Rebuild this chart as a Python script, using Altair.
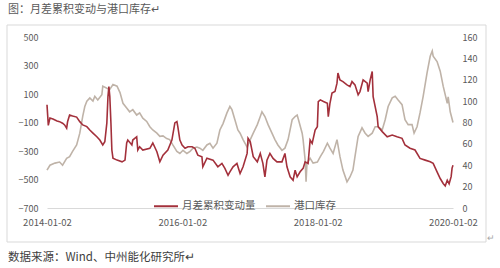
import altair as alt
import pandas as pd

# ---------------- data ----------------
series_names = ["月差累积变动量", "港口库存"]
series_colors = ["#A3303B", "#BFB3A8"]

red_dates = [
    "2014-01-02", "2014-01-09", "2014-01-18", "2014-02-03", "2014-02-25", "2014-03-11", "2014-03-27",
    "2014-04-07", "2014-04-18", "2014-04-23", "2014-05-04", "2014-05-20", "2014-06-11", "2014-06-28",
    "2014-07-14", "2014-08-05", "2014-08-21", "2014-09-07", "2014-09-28", "2014-10-14", "2014-10-30",
    "2014-11-10", "2014-11-21", "2014-11-27", "2014-12-02", "2014-12-07", "2014-12-13", "2014-12-18",
    "2014-12-24", "2015-01-15", "2015-02-11", "2015-02-27", "2015-03-08", "2015-03-14", "2015-04-05",
    "2015-04-10", "2015-05-01", "2015-05-07", "2015-05-17", "2015-06-03", "2015-07-11", "2015-07-27",
    "2015-08-18", "2015-09-03", "2015-09-20", "2015-10-16", "2015-11-07", "2015-11-23", "2015-12-04",
    "2015-12-09", "2015-12-20", "2016-01-01", "2016-01-17", "2016-02-02", "2016-02-24", "2016-03-10",
    "2016-03-26", "2016-04-17", "2016-04-22", "2016-05-14", "2016-06-16", "2016-07-12", "2016-08-03",
    "2016-08-19", "2016-09-05", "2016-09-15", "2016-10-02", "2016-10-23", "2016-11-09", "2016-11-25",
    "2016-12-17", "2016-12-22", "2017-01-03", "2017-01-19", "2017-02-10", "2017-02-26", "2017-03-12",
    "2017-03-23", "2017-04-03", "2017-04-19", "2017-05-06", "2017-05-27", "2017-06-23", "2017-07-09",
    "2017-07-20", "2017-08-06", "2017-08-22", "2017-09-02", "2017-09-13", "2017-09-29", "2017-10-15",
    "2017-10-26", "2017-11-11", "2017-11-22", "2017-12-03", "2017-12-19", "2017-12-31", "2018-01-05",
    "2018-01-16", "2018-02-02", "2018-02-23", "2018-02-28", "2018-03-09", "2018-03-20", "2018-04-05",
    "2018-04-16", "2018-04-21", "2018-05-02", "2018-05-18", "2018-06-09", "2018-06-25", "2018-07-06",
    "2018-07-22", "2018-08-08", "2018-08-18", "2018-09-04", "2018-09-26", "2018-10-01", "2018-10-12",
    "2018-10-23", "2018-10-28", "2018-11-19", "2018-11-24", "2018-12-16", "2019-01-12", "2019-02-08",
    "2019-03-06", "2019-04-02", "2019-04-18", "2019-05-15", "2019-06-11", "2019-07-08", "2019-08-05",
    "2019-09-01", "2019-09-17", "2019-10-08", "2019-10-25", "2019-11-10", "2019-11-21", "2019-12-02",
    "2019-12-12", "2019-12-23", "2019-12-28", "2020-01-02",
]
red_values = [
    25, -120, -68, -75, -90, -94, -105,
    -117, -140, -95, -47, -54, -62, -94,
    -117, -129, -153, -174, -200, -223, -258,
    -235, -103, 82, 152, 82, -103, -293,
    -350, -364, -376, -364, -244, -223, -258,
    -223, -200, -293, -270, -293, -281, -244,
    -305, -376, -329, -293, -223, -103, -94,
    -129, -223, -258, -281, -270, -270, -281,
    -329, -340, -411, -350, -364, -411, -387,
    -422, -470, -446, -411, -387, -458, -411,
    -317, -211, -235, -340, -376, -317, -387,
    -481, -364, -317, -352, -376, -376, -317,
    -411, -481, -505, -435, -481, -446, -422,
    -376, -387, -223, -246, -153, -129, 47,
    59, 47, 35, -59, 35, 106, 117,
    176, 247, 199, 187, 164, 152, 187,
    164, 94, 117, 199, 176, 117, 199,
    258, 82, -59, -129, -164, -200, -188,
    -200, -211, -258, -281, -293, -352, -364,
    -376, -387, -446, -493, -528, -545, -505,
    -530, -480, -420, -400,
]

gray_dates = [
    "2014-01-02", "2014-01-18", "2014-02-14", "2014-03-11", "2014-03-27", "2014-04-18", "2014-05-04",
    "2014-05-20", "2014-06-11", "2014-06-28", "2014-07-14", "2014-07-25", "2014-08-05", "2014-08-21",
    "2014-09-07", "2014-09-17", "2014-10-03", "2014-10-25", "2014-10-30", "2014-11-21", "2014-12-07",
    "2014-12-24", "2015-01-15", "2015-01-31", "2015-02-16", "2015-03-08", "2015-03-24", "2015-04-10",
    "2015-05-01", "2015-05-17", "2015-06-03", "2015-06-24", "2015-07-11", "2015-07-27", "2015-08-18",
    "2015-09-03", "2015-09-20", "2015-10-10", "2015-10-26", "2015-11-12", "2015-12-04", "2015-12-20",
    "2016-01-06", "2016-01-27", "2016-02-13", "2016-02-29", "2016-03-21", "2016-04-06", "2016-04-22",
    "2016-05-14", "2016-05-30", "2016-06-16", "2016-07-07", "2016-07-23", "2016-08-09", "2016-08-30",
    "2016-09-15", "2016-09-26", "2016-10-12", "2016-10-28", "2016-11-09", "2016-11-25", "2016-12-17",
    "2017-01-03", "2017-01-19", "2017-02-10", "2017-02-26", "2017-03-07", "2017-03-23", "2017-04-09",
    "2017-04-30", "2017-05-16", "2017-06-01", "2017-06-23", "2017-07-09", "2017-07-26", "2017-08-17",
    "2017-09-02", "2017-09-13", "2017-09-18", "2017-10-10", "2017-10-15", "2017-10-26", "2017-10-31",
    "2017-11-05", "2017-11-22", "2017-12-08", "2017-12-31", "2018-01-16", "2018-02-02", "2018-02-23",
    "2018-03-09", "2018-03-26", "2018-04-16", "2018-05-02", "2018-05-18", "2018-06-09", "2018-06-25",
    "2018-07-11", "2018-07-22", "2018-08-08", "2018-08-29", "2018-09-15", "2018-10-01", "2018-10-23",
    "2018-11-08", "2018-11-24", "2018-12-16", "2019-01-01", "2019-01-17", "2019-02-08", "2019-02-24",
    "2019-03-12", "2019-04-02", "2019-04-18", "2019-05-05", "2019-05-26", "2019-06-06", "2019-06-22",
    "2019-07-08", "2019-07-25", "2019-08-15", "2019-09-01", "2019-09-12", "2019-09-17", "2019-10-08",
    "2019-10-25", "2019-11-10", "2019-12-02", "2019-12-07", "2019-12-18", "2020-01-02",
]
gray_values = [
    35.5, 40, 42, 43, 40, 46.5, 48,
    53, 59, 70, 86, 95, 100, 103,
    100, 104.5, 101, 106, 114, 112, 111,
    115.5, 114, 108, 98, 93.6, 90, 92,
    87, 89, 84, 81, 76, 73, 70,
    67, 67.5, 65, 64, 59, 53, 51,
    54, 51, 53, 56, 57, 56, 54,
    59, 60.6, 56, 60.6, 73, 79, 89,
    95, 92, 82.6, 73, 70, 64, 57,
    64, 70, 78, 85.6, 90, 85.6, 78,
    70, 64, 59, 54, 56, 64, 82.6,
    85.6, 87, 84, 70, 64, 45, 24.5,
    42, 46.5, 42, 43, 48, 53, 60.6,
    56, 51, 64, 48, 35.5, 24.5, 29,
    35.5, 48, 67, 75, 70, 67, 70,
    76, 76, 73, 82.6, 95, 103, 104.5,
    101, 96.7, 82.6, 78, 78, 70, 76,
    89, 104.5, 126.5, 142, 147, 142, 137,
    128, 114, 98, 104, 90, 80,
]

x_ticks = ["2014-01-02", "2016-01-02", "2018-01-02", "2020-01-02"]
left_ticks = [-700, -500, -300, -100, 100, 300, 500]
right_ticks = [0, 20, 40, 60, 80, 100, 120, 140, 160]

title_text = "图：月差累积变动与港口库存↵"
source_text = "数据来源：Wind、中州能化研究所↵"
corner_mark = "↵"

# ---------------- chart ----------------
FONT = "Noto Sans CJK SC"
LABEL_COLOR = "#595959"


def dt(s):
    y, m, d = (int(p) for p in s.split("-"))
    return alt.DateTime(year=y, month=m, date=d, utc=True)


red_df = pd.DataFrame({"date": red_dates, "value": red_values, "series": series_names[0]})
gray_df = pd.DataFrame({"date": gray_dates, "value": gray_values, "series": series_names[1]})

x_enc = alt.X(
    "date:T",
    scale=alt.Scale(type="utc", domain=[dt(x_ticks[0]), dt(x_ticks[-1])]),
    axis=alt.Axis(
        values=[dt(s) for s in x_ticks],
        labelExpr="utcFormat(datum.value, '%Y-%m-%d')",
        title=None, grid=False, ticks=False, domainColor="#D9D9D9", domainWidth=1,
        labelPadding=9, labelFontSize=9.5, labelColor=LABEL_COLOR, labelFont=FONT,
        labelFlush=False, labelOverlap=False,
    ),
)

color_enc = alt.Color(
    "series:N",
    scale=alt.Scale(domain=series_names, range=series_colors),
    legend=alt.Legend(
        orient="none", legendX=106, legendY=156, direction="horizontal", title=None,
        symbolType="stroke", symbolSize=576, symbolStrokeWidth=2,
        labelFontSize=10.5, labelColor=LABEL_COLOR, labelFont=FONT,
        labelOffset=3, columnPadding=6,
    ),
)

red = alt.Chart(red_df).mark_line(strokeWidth=1.6).encode(
    x=x_enc,
    y=alt.Y(
        "value:Q",
        scale=alt.Scale(domain=[left_ticks[0], left_ticks[-1]], nice=False, zero=False),
        axis=alt.Axis(
            orient="left", values=left_ticks, title=None, grid=False, ticks=False, domain=False,
            labelPadding=9, labelFontSize=9, labelColor=LABEL_COLOR, labelFont=FONT, format="d",
        ),
    ),
    color=color_enc,
)

gray = alt.Chart(gray_df).mark_line(strokeWidth=1.6).encode(
    x=x_enc,
    y=alt.Y(
        "value:Q",
        scale=alt.Scale(domain=[right_ticks[0], right_ticks[-1]], nice=False),
        axis=alt.Axis(
            orient="right", values=right_ticks, title=None, grid=False, ticks=False, domain=False,
            labelPadding=9, labelFontSize=9, labelColor=LABEL_COLOR, labelFont=FONT,
        ),
    ),
    color=color_enc,
)

frame = alt.Chart(pd.DataFrame({"k": [0]})).mark_rect(
    fillOpacity=0, stroke="#D9D9D9", strokeWidth=1
).encode(x=alt.value(-40), x2=alt.value(439), y=alt.value(-12), y2=alt.value(205))

title_mark = alt.Chart(pd.DataFrame({"t": [title_text]})).mark_text(
    align="left", baseline="middle", fontSize=11, color=LABEL_COLOR, font=FONT
).encode(x=alt.value(-39), y=alt.value(-27), text="t:N")

source_mark = alt.Chart(pd.DataFrame({"t": [source_text]})).mark_text(
    align="left", baseline="middle", fontSize=11.5, color="#404040", font=FONT
).encode(x=alt.value(-39), y=alt.value(221), text="t:N")

corner = alt.Chart(pd.DataFrame({"t": [corner_mark]})).mark_text(
    align="left", baseline="middle", fontSize=9, color="#A6A6A6", font=FONT
).encode(x=alt.value(440), y=alt.value(201), text="t:N")

chart = (
    alt.layer(frame, title_mark, source_mark, corner, gray, red)
    .resolve_scale(y="independent")
    .properties(
        width=406, height=171,
        autosize=alt.AutoSizeParams(type="none"),
        padding={"left": 47, "top": 37, "right": 47, "bottom": 60},
        background="white",
    )
    .configure_view(stroke=None)
)

chart.save("out.html", embed_options={"renderer": "svg", "actions": False})
